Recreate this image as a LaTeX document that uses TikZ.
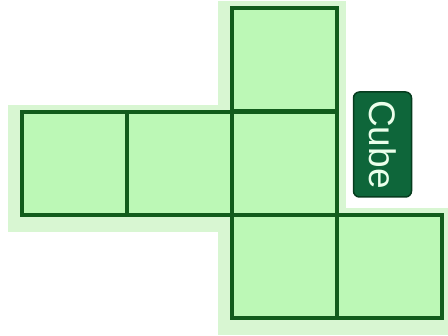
\documentclass[tikz,border=0pt]{standalone}
\usepackage{fontspec}
\setsansfont{Liberation Sans}
\usetikzlibrary{backgrounds}

\definecolor{facefill}{RGB}{188,248,182}
\definecolor{faceline}{RGB}{18,92,28}
\definecolor{halofill}{RGB}{216,246,210}
\definecolor{tagfill}{RGB}{14,102,58}
\definecolor{tagline}{RGB}{6,60,30}

\tikzset{
  face/.style={draw=faceline, fill=facefill, line width=4pt,
    minimum width=105pt, minimum height=103pt, inner sep=0pt},
  tag/.style={draw=tagline, fill=tagfill, line width=1.5pt, rounded corners=6pt,
    rotate=-90, minimum width=105pt, minimum height=58pt, inner sep=0pt,
    text=green!8, font=\sffamily\fontsize{37}{37}\selectfont}
}

\begin{document}
\begin{tikzpicture}[x=1pt,y=1pt]
  \useasboundingbox (0,0) rectangle (448,336);
  % faces of the net
  \node[face] (top) at (284.5,276) {};
  \node[face] (left) at (74.5,172.5) {};
  \node[face] (midleft) at (179.5,172.5) {};
  \node[face] (mid) at (284.5,172.5) {};
  \node[face] (bot) at (284.5,69.5) {};
  \node[face] (botright) at (389.5,69.5) {};
  % pale shadow behind the net
  \begin{scope}[on background layer]
    \foreach \f in {top,left,midleft,mid,bot,botright}
      \fill[halofill] ([xshift=-12pt,yshift=5pt]\f.north west)
        rectangle ([xshift=7pt,yshift=-15pt]\f.south east);
  \end{scope}
  \node[tag] (lbl) at (382.5,191.5) {Cube};
\end{tikzpicture}
\end{document}
